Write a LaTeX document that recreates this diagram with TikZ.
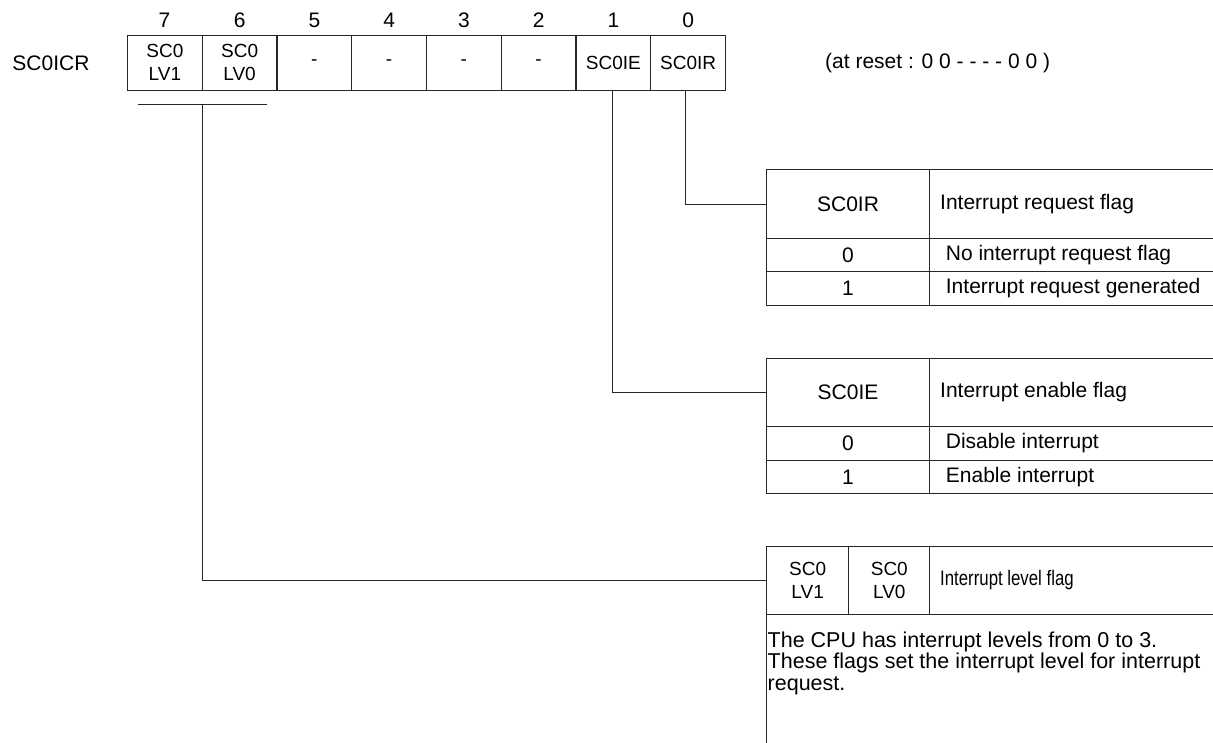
\documentclass[tikz,border=0pt]{standalone}
\usepackage{fontspec}
\setmainfont{Liberation Sans}
\newfontfamily\narrowsans[FakeStretch=0.8]{Liberation Sans}
\begin{document}
\begin{tikzpicture}[x=1pt,y=-1pt,
  ln/.style={line width=1pt, draw=black!85},
  regcell/.style={ln, rectangle, minimum width=74.75pt, minimum height=54.3pt,
    inner sep=0pt, align=center, font=\fontsize{19}{23}\selectfont},
  bitno/.style={inner sep=0pt, font=\fontsize{21}{25}\selectfont},
  lbl/.style={inner sep=0pt, font=\fontsize{21}{25}\selectfont},
  tcell/.style={ln, rectangle, anchor=north west, inner sep=0pt, align=center,
    font=\fontsize{21}{23}\selectfont},
  ttext/.style={inner sep=0pt, anchor=west, font=\fontsize{21}{25}\selectfont},
]
\useasboundingbox (0,0) rectangle (1213,742);

% register name and reset value
\node[lbl] (regname) at (51,63) {SC0ICR};
\node[lbl, anchor=west] (reset) at (825,63) {(at reset : 0 0 - - - - 0 0 )};

% bit numbers
\node[bitno] (n7) at (164.4,20) {7};
\node[bitno] (n6) at (239.6,20) {6};
\node[bitno] (n5) at (314.4,20) {5};
\node[bitno] (n4) at (389.1,20) {4};
\node[bitno] (n3) at (463.9,20) {3};
\node[bitno] (n2) at (538.6,20) {2};
\node[bitno] (n1) at (613.4,20) {1};
\node[bitno] (n0) at (688.1,20) {0};

% register cells
\node[regcell] (b7) at (164.9,62.85) {SC0\\LV1};
\node[regcell] (b6) at (239.6,62.85) {SC0\\LV0};
\node[regcell] (b5) at (314.4,62.85) {-};
\node[regcell] (b4) at (389.1,62.85) {-};
\node[regcell] (b3) at (463.9,62.85) {-};
\node[regcell] (b2) at (538.6,62.85) {-};
\node[regcell] (b1) at (613.4,62.85) {SC0IE};
\node[regcell] (b0) at (688.1,62.85) {SC0IR};

% SC0IR table
\node[tcell, minimum width=163pt, minimum height=68.4pt] (irA) at (766,169.3) {SC0IR};
\node[tcell, minimum width=283.5pt, minimum height=68.4pt] (irB) at (929,169.3) {};
\node[ttext] (irBt) at ([xshift=11pt]irB.west) {Interrupt request flag};
\node[tcell, minimum width=163pt, minimum height=33.3pt] (ir0a) at (766,237.7) {0};
\node[tcell, minimum width=283.5pt, minimum height=33.3pt] (ir0b) at (929,237.7) {};
\node[ttext] (ir0t) at ([xshift=16.7pt]ir0b.west) {No interrupt request flag};
\node[tcell, minimum width=163pt, minimum height=34pt] (ir1a) at (766,271) {1};
\node[tcell, minimum width=283.5pt, minimum height=34pt] (ir1b) at (929,271) {};
\node[ttext] (ir1t) at ([xshift=16.7pt]ir1b.west) {Interrupt request generated};

% SC0IE table
\node[tcell, minimum width=163pt, minimum height=67.4pt] (ieA) at (766,358.3) {SC0IE};
\node[tcell, minimum width=283.5pt, minimum height=67.4pt] (ieB) at (929,358.3) {};
\node[ttext] (ieBt) at ([xshift=11pt]ieB.west) {Interrupt enable flag};
\node[tcell, minimum width=163pt, minimum height=34.6pt] (ie0a) at (766,425.7) {0};
\node[tcell, minimum width=283.5pt, minimum height=34.6pt] (ie0b) at (929,425.7) {};
\node[ttext] (ie0t) at ([xshift=16.7pt]ie0b.west) {Disable interrupt};
\node[tcell, minimum width=163pt, minimum height=33pt] (ie1a) at (766,460.3) {1};
\node[tcell, minimum width=283.5pt, minimum height=33pt] (ie1b) at (929,460.3) {};
\node[ttext] (ie1t) at ([xshift=16.7pt]ie1b.west) {Enable interrupt};

% interrupt level table
\node[tcell, minimum width=82.3pt, minimum height=68pt, font=\fontsize{19}{23}\selectfont] (lvA) at (766,546) {SC0\\LV1};
\node[tcell, minimum width=81pt, minimum height=68pt, font=\fontsize{19}{23}\selectfont] (lvB) at (848.3,546) {SC0\\LV0};
\node[tcell, minimum width=283.2pt, minimum height=68pt] (lvC) at (929.3,546) {};
\node[ttext, font=\narrowsans\fontsize{21}{23}\selectfont] (lvCt) at ([xshift=10.7pt]lvC.west) {Interrupt level flag};
\node[tcell, minimum width=446.5pt, minimum height=150pt] (lvD) at (766,614) {};
\node[inner sep=0pt, anchor=north west, align=left, font=\fontsize{21.5}{21.6}\selectfont] (lvDt) at (767.5,631.5)
  {The CPU has interrupt levels from 0 to 3.\\These flags set the interrupt level for interrupt\\request.};

% connectors
\coordinate (brL) at (138,104);
\coordinate (brR) at (267,104);
\coordinate (brM) at (202.25,104);
\draw[ln] (brL) -- (brR);
\draw[ln] (brM) |- (lvA.west);
\draw[ln] ([xshift=-0.7pt]b1.south) |- (ieA.west);
\draw[ln] ([xshift=-2.4pt]b0.south) |- (irA.west);
\end{tikzpicture}
\end{document}
